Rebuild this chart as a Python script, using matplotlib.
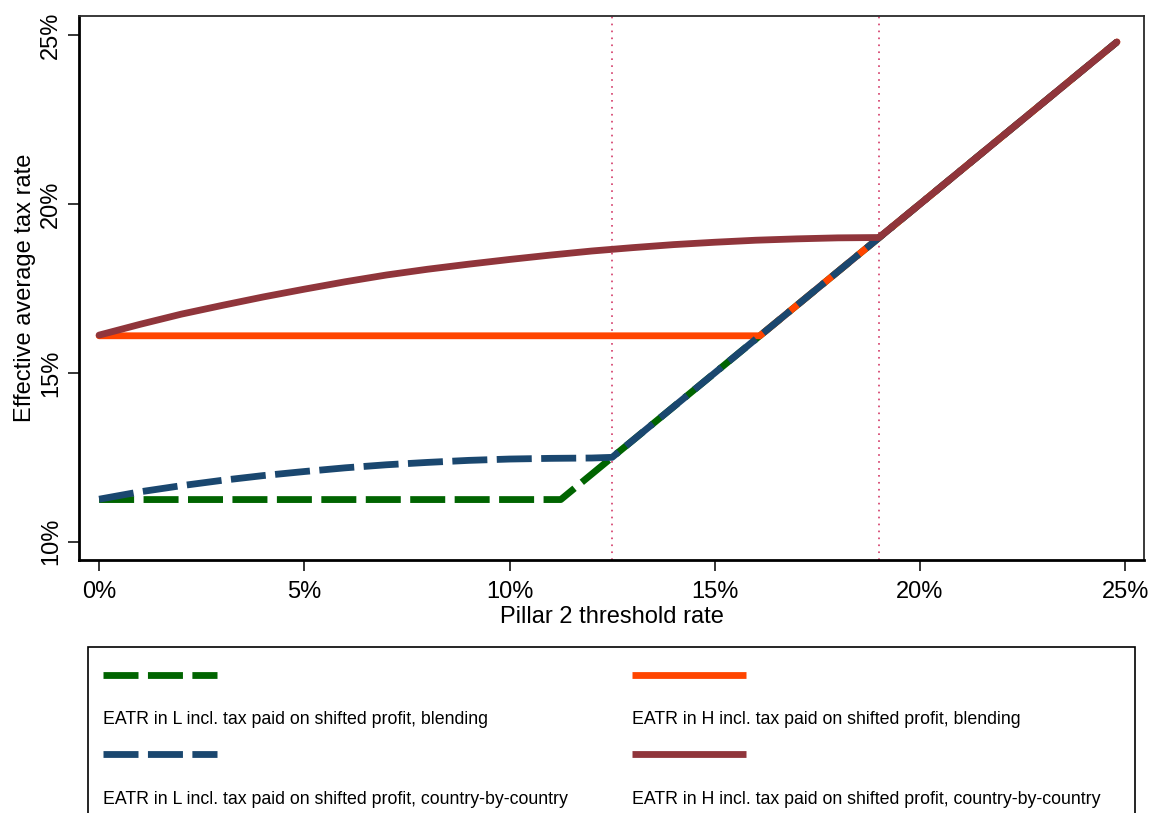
import matplotlib
matplotlib.use("Agg")
import matplotlib.pyplot as plt
from matplotlib.lines import Line2D
from matplotlib.patches import Rectangle
from matplotlib.ticker import FuncFormatter, FixedLocator

plt.rcParams['font.family'] = ['Liberation Sans', 'DejaVu Sans']
plt.rcParams['lines.scale_dashes'] = False

# Pillar 2 threshold rate (%) and the resulting effective average tax rates (%)
x_l_blend = [0, 11.25, 12, 13, 14, 15, 16, 17, 18, 19, 20, 21, 22, 23, 24, 24.8]
eatr_l_blend = [11.25, 11.25, 12, 13, 14, 15, 16, 17, 18, 19, 20, 21, 22, 23, 24, 24.8]

x_l_cbc = [0, 1, 2, 3, 4, 5, 6, 7, 8, 9, 10, 11, 12, 12.5, 13, 14, 15, 16, 17,
           18, 19, 20, 21, 22, 23, 24, 24.8]
eatr_l_cbc = [11.26, 11.48, 11.66, 11.82, 11.96, 12.08, 12.19, 12.28, 12.35, 12.41,
              12.45, 12.47, 12.48, 12.5, 13, 14, 15, 16, 17, 18, 19, 20, 21, 22,
              23, 24, 24.8]

x_h_blend = [0, 16.1, 17, 18, 19, 20, 21, 22, 23, 24, 24.8]
eatr_h_blend = [16.1, 16.1, 17, 18, 19, 20, 21, 22, 23, 24, 24.8]

x_h_cbc = [0, 1, 2, 3, 4, 5, 6, 7, 8, 9, 10, 11, 12, 13, 14, 15, 16, 17, 18, 19,
           20, 21, 22, 23, 24, 24.8]
eatr_h_cbc = [16.12, 16.44, 16.74, 17.0, 17.25, 17.48, 17.7, 17.9, 18.07, 18.22,
              18.36, 18.49, 18.61, 18.71, 18.8, 18.87, 18.93, 18.97, 19.0, 19.01,
              20, 21, 22, 23, 24, 24.8]

# Reference thresholds marked with dotted vertical lines
threshold_marks = [12.5, 19]

x_ticks = [0, 5, 10, 15, 20, 25]
y_ticks = [10, 15, 20, 25]

labels = [
    "EATR in L incl. tax paid on shifted profit, blending",
    "EATR in H incl. tax paid on shifted profit, blending",
    "EATR in L incl. tax paid on shifted profit, country-by-country",
    "EATR in H incl. tax paid on shifted profit, country-by-country",
]

GREEN = "#006400"
NAVY = "#1a476f"
ORANGE = "#ff4500"
CRANBERRY = "#90353b"
MARK = "#d0285a"

W, H = 1152, 813
fig = plt.figure(figsize=(W / 100, H / 100), dpi=100, facecolor="white")
ax = fig.add_axes([79 / W, 1 - 560 / H, (1144 - 79) / W, (560 - 16) / H])

LW = 4.9
DASH = (25.2, 6.8)

for xm in threshold_marks:
    ax.axvline(xm, color=MARK, lw=1.1, dashes=(1.2, 3.8), zorder=1)

ax.plot(x_l_blend, eatr_l_blend, color=GREEN, lw=LW, dashes=DASH,
        dash_capstyle="butt", dash_joinstyle="round", zorder=2)
ax.plot(x_h_blend, eatr_h_blend, color=ORANGE, lw=LW,
        solid_capstyle="round", solid_joinstyle="round", zorder=3)
ax.plot(x_l_cbc, eatr_l_cbc, color=NAVY, lw=LW, dashes=DASH,
        dash_capstyle="butt", dash_joinstyle="round", zorder=4)
ax.plot(x_h_cbc, eatr_h_cbc, color=CRANBERRY, lw=LW,
        solid_capstyle="round", solid_joinstyle="round", zorder=5)

ax.set_xlim(-0.49, 25.46)
ax.set_ylim(9.46, 25.57)
ax.xaxis.set_major_locator(FixedLocator(x_ticks))
ax.yaxis.set_major_locator(FixedLocator(y_ticks))
pct = FuncFormatter(lambda v, p: f"{v:.0f}%")
ax.xaxis.set_major_formatter(pct)
ax.yaxis.set_major_formatter(pct)

ax.tick_params(axis="both", direction="out", length=7.8, width=1.1,
               labelsize=17, color="black")
ax.tick_params(axis="x", pad=7.5)
ax.tick_params(axis="y", pad=4.5, labelrotation=90)
for lab in ax.get_yticklabels():
    lab.set_va("center")

for side in ("left", "bottom"):
    ax.spines[side].set_linewidth(2.0)
    ax.spines[side].set_color("black")
for side in ("top", "right"):
    ax.spines[side].set_linewidth(1.3)
    ax.spines[side].set_color("#2a2a2a")

ax.set_xlabel("Pillar 2 threshold rate", fontsize=17)
ax.set_ylabel("Effective average tax rate", fontsize=17)
ax.xaxis.set_label_coords(0.5, -(606 - 560) / 544)
ax.yaxis.set_label_coords((36 - 79) / 1065, 0.5)


def fx(px):
    return px / W


def fy(py):
    return 1 - py / H


# Legend frame (runs past the lower edge of the canvas)
fig.patches.append(Rectangle((fx(87.5), fy(830)), fx(1134.5) - fx(87.5),
                             fy(646.5) - fy(830), transform=fig.transFigure,
                             fill=False, edgecolor="black", lw=1.2))

styles = [
    dict(color=GREEN, dashes=DASH, dash_capstyle="butt"),
    dict(color=ORANGE, solid_capstyle="butt"),
    dict(color=NAVY, dashes=DASH, dash_capstyle="butt"),
    dict(color=CRANBERRY, solid_capstyle="butt"),
]
col_x = [103, 632]
row_sample_y = [675, 754]
row_text_y = [719.5, 799]
for i, (lab, st) in enumerate(zip(labels, styles)):
    c, r = i % 2, i // 2
    x0 = col_x[c]
    fig.lines.append(Line2D([fx(x0), fx(x0 + 114)], [fy(row_sample_y[r])] * 2,
                            transform=fig.transFigure, lw=LW, **st))
    fig.text(fx(x0), fy(row_text_y[r]), lab, fontsize=12.75, ha="left",
             va="center", color="black")

fig.savefig("out.png", dpi=100, facecolor="white")
